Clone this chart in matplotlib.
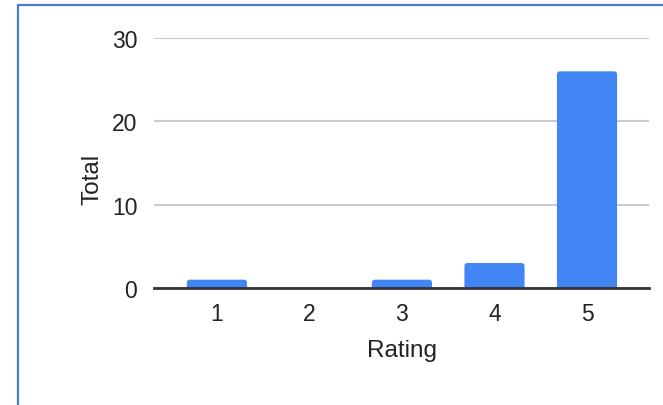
import matplotlib.pyplot as plt
from matplotlib.patches import Rectangle, FancyBboxPatch

ratings = ['1', '2', '3', '4', '5']
totals = [1, 0, 1, 3, 26]

plt.rcParams['font.family'] = ['Liberation Sans', 'DejaVu Sans']

fig = plt.figure(figsize=(6.63, 4.06), dpi=100)
ax = fig.add_axes([154/663, 1-289/406, 495/663, 250/406])

x = list(range(1, len(ratings) + 1))
bars = ax.bar(x, totals, width=0.65, color='#4285f4', zorder=3)

# swap the plain bars for ones with slightly rounded tops
for b in bars:
    h = b.get_height()
    if h <= 0:
        b.set_visible(False)
        continue
    rb = FancyBboxPatch((b.get_x(), -0.5), b.get_width(), h + 0.5,
                        boxstyle='round,pad=0,rounding_size=0.035',
                        mutation_aspect=11, facecolor='#4285f4',
                        edgecolor='none', zorder=3)
    ax.add_patch(rb)
    b.set_visible(False)

ax.set_xlim(0.32, 5.67)
ax.set_ylim(0, 30)
ax.set_yticks([0, 10, 20, 30])
ax.set_xticks(x)
ax.set_xticklabels(ratings)
ax.grid(axis='y', color='#cccccc', linewidth=1.5, zorder=0)
for s in ['top', 'right', 'left']:
    ax.spines[s].set_visible(False)
ax.spines['bottom'].set_color('#333333')
ax.spines['bottom'].set_linewidth(2)
ax.spines['bottom'].set_zorder(4)
ax.tick_params(axis='both', length=0, labelsize=16.5, labelcolor='#222222')
ax.tick_params(axis='y', pad=12)
ax.tick_params(axis='x', pad=10)

ax.set_ylabel('Total', fontsize=17.5, color='#222222')
ax.yaxis.set_label_coords(-0.124, 0.44)
ax.yaxis.label.set_va('center')
ax.set_xlabel('Rating', fontsize=17.5, color='#222222')
ax.xaxis.set_label_coords(0.501, -0.25)
ax.xaxis.label.set_va('center')

# blue frame round the chart
fig.patches.append(Rectangle((17.5/663, -0.1), 1.2, 1 - 6/406 + 0.1,
                             transform=fig.transFigure, fill=False,
                             edgecolor='#4a7bd6', linewidth=1.6))

fig.savefig('out.png', dpi=100)
